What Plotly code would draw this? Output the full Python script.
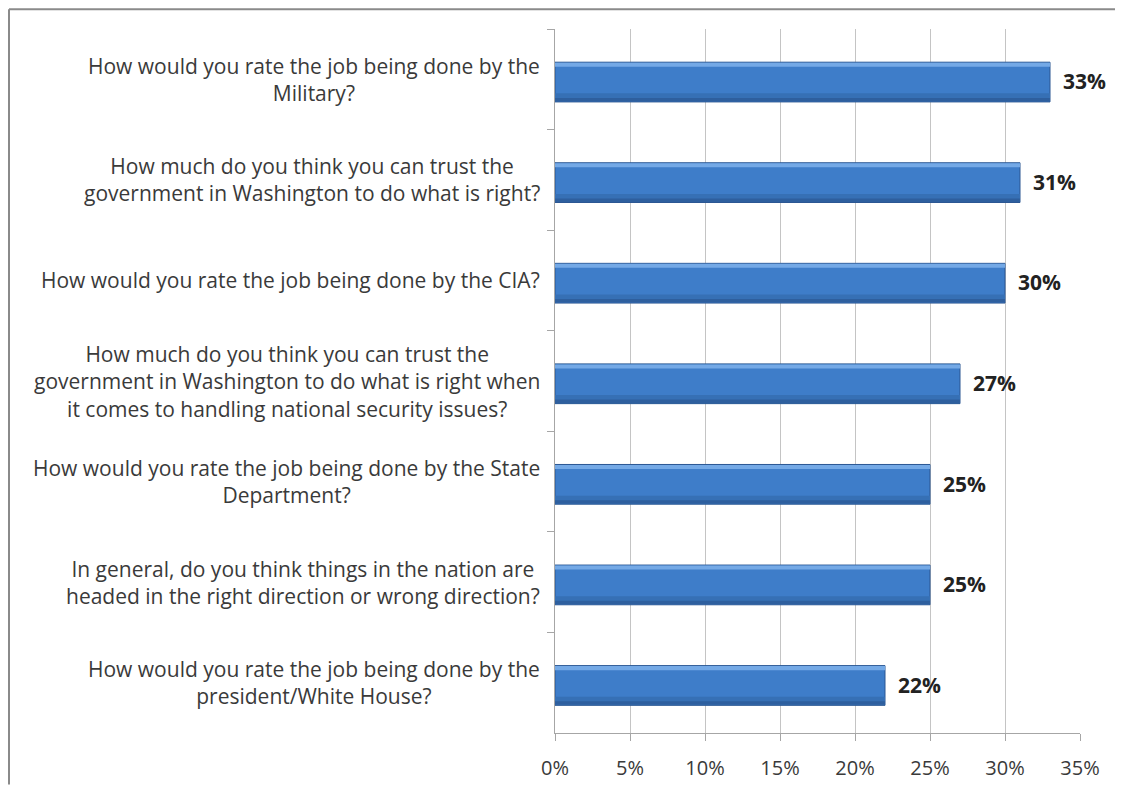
import plotly.graph_objects as go

categories = [
    "How would you rate the job being done by the<br>Military?",
    "How much do you think you can trust the<br>government in Washington to do what is right?",
    "How would you rate the job being done by the CIA?",
    "How much do you think you can trust the<br>government in Washington to do what is right when<br>it comes to handling national security issues?",
    "How would you rate the job being done by the State<br>Department?",
    "In general, do you think things in the nation are<br>headed in the right direction or wrong direction?",
    "How would you rate the job being done by the<br>president/White House?",
]
values = [33, 31, 30, 27, 25, 25, 22]
tick_values = [0, 5, 10, 15, 20, 25, 30, 35]
tick_labels = ["0%", "5%", "10%", "15%", "20%", "25%", "30%", "35%"]

# page body has an 8px margin, so the figure is 8px smaller and shifted
W, H = 1115, 785
ML, MR, MT, MB = 547, 43, 21, 52
PW = W - ML - MR
PH = H - MT - MB

FONT = "Open Sans"
TXT = "#3a3a3a"

fig = go.Figure()
# main bar body
fig.add_trace(go.Bar(
    x=values, y=categories, orientation="h",
    width=0.395, offset=-0.17,
    marker=dict(color="#3e7dc9", line=dict(color="#2b5792", width=1)),
    hoverinfo="skip", showlegend=False,
))
# lower darker shade
fig.add_trace(go.Bar(
    x=values, y=categories, orientation="h",
    width=0.075, offset=0.14,
    marker=dict(color="#3670b5", line=dict(width=0)),
    hoverinfo="skip", showlegend=False,
))
fig.add_trace(go.Bar(
    x=values, y=categories, orientation="h",
    width=0.035, offset=0.185,
    marker=dict(color="#2e5f9e", line=dict(width=0)),
    hoverinfo="skip", showlegend=False,
))
# top highlight
fig.add_trace(go.Bar(
    x=values, y=categories, orientation="h",
    width=0.04, offset=-0.165,
    marker=dict(color="#74a9e6", line=dict(width=0)),
    hoverinfo="skip", showlegend=False,
))

annotations = []
for c, v in zip(categories, values):
    annotations.append(dict(
        x=0, xref="paper", y=c, yref="y", text=c, showarrow=False,
        xanchor="right", yanchor="middle", align="center", xshift=-13,
        font=dict(family=FONT, size=21, color=TXT),
    ))
    annotations.append(dict(
        x=v, xref="x", y=c, yref="y", text=f"<b>{v}%</b>", showarrow=False,
        xanchor="left", yanchor="middle", xshift=11, yshift=-2,
        font=dict(family=FONT, size=21, color="#222222"),
    ))

def px_x(p):
    return (p - ML) / PW

def px_y(p):
    return (H - MB - p) / PH

shapes = [
    dict(type="line", xref="paper", yref="paper",
         x0=px_x(1), x1=px_x(1110), y0=px_y(1), y1=px_y(1),
         line=dict(color="#8a8a8a", width=2)),
    dict(type="line", xref="paper", yref="paper",
         x0=px_x(1), x1=px_x(1), y0=px_y(1), y1=px_y(H),
         line=dict(color="#8a8a8a", width=2)),
]

fig.update_layout(
    width=W, height=H,
    margin=dict(l=ML, r=MR, t=MT, b=MB, pad=0),
    paper_bgcolor="white", plot_bgcolor="white",
    barmode="overlay",
    showlegend=False,
    annotations=annotations,
    shapes=shapes,
    xaxis=dict(
        range=[0, 35], tickvals=tick_values, ticktext=tick_labels,
        showgrid=True, gridcolor="#c4c4c4", gridwidth=1.3,
        showline=True, linecolor="#a6a6a6", linewidth=1.3,
        ticks="outside", ticklen=7, tickcolor="#a6a6a6",
        ticklabelstandoff=10,
        tickfont=dict(family=FONT, size=20, color=TXT),
        zeroline=False, fixedrange=True,
    ),
    yaxis=dict(
        type="category", autorange="reversed",
        showticklabels=False, showgrid=False,
        showline=True, linecolor="#a6a6a6", linewidth=1.3,
        ticks="outside", ticklen=7, tickcolor="#a6a6a6", tickson="boundaries",
        zeroline=False, fixedrange=True,
    ),
)

fig.write_html("out.html")
